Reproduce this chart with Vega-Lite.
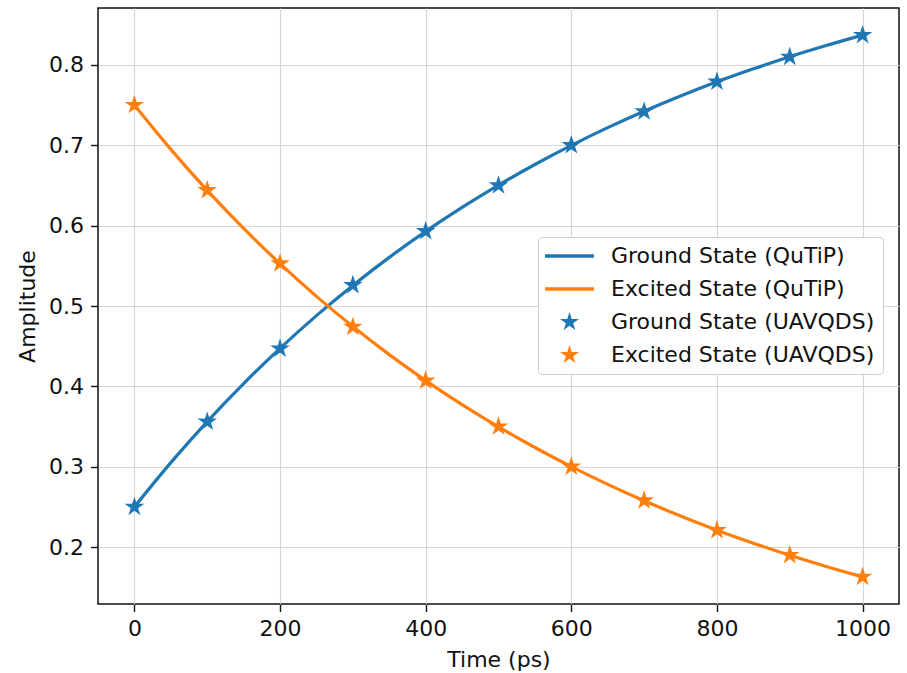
{
  "$schema": "https://vega.github.io/schema/vega-lite/v6.json",
  "width": 801,
  "height": 596,
  "autosize": "none",
  "padding": {"left": 98, "top": 8, "right": 8, "bottom": 69},
  "background": "white",
  "config": {
    "font": "DejaVu Sans",
    "view": {"stroke": "#111111", "strokeWidth": 1.5},
    "axis": {
      "domain": false,
      "grid": true,
      "gridColor": "#d6d6d6",
      "gridWidth": 1.1,
      "tickColor": "#111111",
      "tickSize": 7.5,
      "tickWidth": 1.4,
      "labelFont": "DejaVu Sans",
      "labelFontSize": 22,
      "labelColor": "#111111",
      "labelPadding": 7,
      "titleFont": "DejaVu Sans",
      "titleFontSize": 22,
      "titleFontWeight": "normal",
      "titleColor": "#111111"
    }
  },
  "datasets": {
    "qutip": [
      {"t": 0, "Ground State (QuTiP)": 0.25, "Excited State (QuTiP)": 0.75},
      {"t": 50, "Ground State (QuTiP)": 0.3051, "Excited State (QuTiP)": 0.6949},
      {"t": 100, "Ground State (QuTiP)": 0.3562, "Excited State (QuTiP)": 0.6438},
      {"t": 150, "Ground State (QuTiP)": 0.4035, "Excited State (QuTiP)": 0.5965},
      {"t": 200, "Ground State (QuTiP)": 0.4473, "Excited State (QuTiP)": 0.5527},
      {"t": 250, "Ground State (QuTiP)": 0.4880, "Excited State (QuTiP)": 0.5120},
      {"t": 300, "Ground State (QuTiP)": 0.5256, "Excited State (QuTiP)": 0.4744},
      {"t": 350, "Ground State (QuTiP)": 0.5605, "Excited State (QuTiP)": 0.4395},
      {"t": 400, "Ground State (QuTiP)": 0.5928, "Excited State (QuTiP)": 0.4072},
      {"t": 450, "Ground State (QuTiP)": 0.6227, "Excited State (QuTiP)": 0.3773},
      {"t": 500, "Ground State (QuTiP)": 0.6504, "Excited State (QuTiP)": 0.3496},
      {"t": 550, "Ground State (QuTiP)": 0.6761, "Excited State (QuTiP)": 0.3239},
      {"t": 600, "Ground State (QuTiP)": 0.6999, "Excited State (QuTiP)": 0.3001},
      {"t": 650, "Ground State (QuTiP)": 0.7220, "Excited State (QuTiP)": 0.2780},
      {"t": 700, "Ground State (QuTiP)": 0.7424, "Excited State (QuTiP)": 0.2576},
      {"t": 750, "Ground State (QuTiP)": 0.7613, "Excited State (QuTiP)": 0.2387},
      {"t": 800, "Ground State (QuTiP)": 0.7789, "Excited State (QuTiP)": 0.2211},
      {"t": 850, "Ground State (QuTiP)": 0.7951, "Excited State (QuTiP)": 0.2049},
      {"t": 900, "Ground State (QuTiP)": 0.8102, "Excited State (QuTiP)": 0.1898},
      {"t": 950, "Ground State (QuTiP)": 0.8241, "Excited State (QuTiP)": 0.1759},
      {"t": 1000, "Ground State (QuTiP)": 0.8371, "Excited State (QuTiP)": 0.1629}
    ],
    "uavqds": [
      {"t": 0, "Ground State (UAVQDS)": 0.25, "Excited State (UAVQDS)": 0.75},
      {"t": 100, "Ground State (UAVQDS)": 0.356, "Excited State (UAVQDS)": 0.644},
      {"t": 200, "Ground State (UAVQDS)": 0.447, "Excited State (UAVQDS)": 0.553},
      {"t": 300, "Ground State (UAVQDS)": 0.526, "Excited State (UAVQDS)": 0.474},
      {"t": 400, "Ground State (UAVQDS)": 0.593, "Excited State (UAVQDS)": 0.407},
      {"t": 500, "Ground State (UAVQDS)": 0.650, "Excited State (UAVQDS)": 0.350},
      {"t": 600, "Ground State (UAVQDS)": 0.700, "Excited State (UAVQDS)": 0.300},
      {"t": 700, "Ground State (UAVQDS)": 0.742, "Excited State (UAVQDS)": 0.258},
      {"t": 800, "Ground State (UAVQDS)": 0.779, "Excited State (UAVQDS)": 0.221},
      {"t": 900, "Ground State (UAVQDS)": 0.810, "Excited State (UAVQDS)": 0.190},
      {"t": 1000, "Ground State (UAVQDS)": 0.837, "Excited State (UAVQDS)": 0.163}
    ]
  },
  "encoding": {
    "x": {
      "field": "t",
      "type": "quantitative",
      "title": "Time (ps)",
      "scale": {"domain": [-50, 1050], "nice": false, "zero": false},
      "axis": {"values": [0, 200, 400, 600, 800, 1000], "format": "d", "titlePadding": 10}
    },
    "y": {
      "field": "v",
      "type": "quantitative",
      "title": "Amplitude",
      "scale": {"domain": [0.1292, 0.8708], "nice": false, "zero": false},
      "axis": {"values": [0.2, 0.3, 0.4, 0.5, 0.6, 0.7, 0.8], "format": ".1f", "titlePadding": 9}
    },
    "color": {
      "field": "series",
      "type": "nominal",
      "scale": {
        "domain": ["Ground State (QuTiP)", "Excited State (QuTiP)", "Ground State (UAVQDS)", "Excited State (UAVQDS)"],
        "range": ["#1f77b4", "#ff7f0e", "#1f77b4", "#ff7f0e"]
      },
      "legend": {
        "title": null,
        "orient": "none",
        "legendX": 440,
        "legendY": 229,
        "labelFont": "DejaVu Sans",
        "labelFontSize": 22,
        "labelColor": "#111111",
        "labelLimit": 500,
        "labelOffset": 43,
        "rowPadding": 11,
        "padding": 8,
        "strokeColor": "#cccccc",
        "fillColor": "white",
        "cornerRadius": 4,
        "symbolType": "stroke",
        "symbolSize": 2401,
        "symbolStrokeWidth": 3,
        "encode": {
          "symbols": {
            "update": {
              "x": {"value": 23.5},
              "shape": {"signal": "datum.index < 2 ? 'stroke' : 'M0,-1L0.2245,-0.309L0.9511,-0.309L0.3633,0.118L0.5878,0.809L0,0.382L-0.5878,0.809L-0.3633,0.118L-0.9511,-0.309L-0.2245,-0.309Z'"},
              "size": {"signal": "datum.index < 2 ? 2401 : 400"},
              "strokeWidth": {"signal": "datum.index < 2 ? 3.5 : 0"},
              "fill": {"signal": "datum.index < 2 ? 'transparent' : (datum.index % 2 == 0 ? '#1f77b4' : '#ff7f0e')"},
              "stroke": {"signal": "datum.index % 2 == 0 ? '#1f77b4' : '#ff7f0e'"},
              "opacity": {"value": 1},
              "fillOpacity": {"value": 1},
              "strokeOpacity": {"value": 1}
            }
          }
        }
      }
    }
  },
  "layer": [
    {
      "data": {"name": "qutip"},
      "transform": [
        {"fold": ["Ground State (QuTiP)", "Excited State (QuTiP)"], "as": ["series", "v"]}
      ],
      "mark": {"type": "line", "strokeWidth": 3.2, "interpolate": "monotone"}
    },
    {
      "data": {"name": "uavqds"},
      "transform": [
        {"fold": ["Ground State (UAVQDS)", "Excited State (UAVQDS)"], "as": ["series", "v"]}
      ],
      "mark": {
        "type": "point",
        "filled": true,
        "opacity": 1,
        "size": 420,
        "shape": "M0,-1L0.2245,-0.309L0.9511,-0.309L0.3633,0.118L0.5878,0.809L0,0.382L-0.5878,0.809L-0.3633,0.118L-0.9511,-0.309L-0.2245,-0.309Z"
      }
    }
  ]
}
